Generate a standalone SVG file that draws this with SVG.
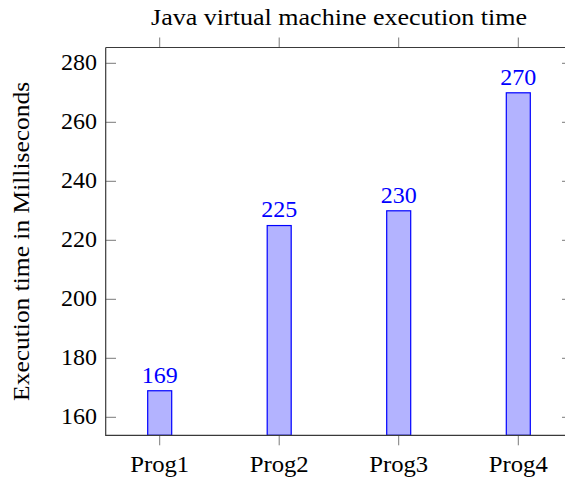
<svg xmlns="http://www.w3.org/2000/svg" width="565" height="479" viewBox="0 0 565 479">
<style>
text { font-family: "Liberation Serif", "Times New Roman", serif; font-size: 24px; fill: #000; }
.axis { stroke: #3a3a3a; stroke-width: 1.2; fill: none; }
.tick { stroke: #7a7a7a; stroke-width: 1; fill: none; }
.bar { fill: #b3b3ff; stroke: #0000ff; stroke-width: 1.2; }
.val { fill: #0000ff; text-anchor: middle; }
.yl { text-anchor: end; }
.xl { text-anchor: middle; }
</style>
<rect width="565" height="479" fill="#ffffff"/>
<g id="bars">
  <g id="bar-prog1"><rect class="bar" x="147.7" y="390.75" width="24" height="44.55"/><text class="val" x="159.7" y="382.5">169</text></g>
  <g id="bar-prog2"><rect class="bar" x="267.2" y="225.55" width="24" height="209.75"/><text class="val" x="279.2" y="217.3">225</text></g>
  <g id="bar-prog3"><rect class="bar" x="386.7" y="210.8" width="24" height="224.5"/><text class="val" x="398.7" y="202.5">230</text></g>
  <g id="bar-prog4"><rect class="bar" x="506.3" y="92.8" width="24" height="342.5"/><text class="val" x="518.3" y="84.5">270</text></g>
</g>
<g id="axes">
  <g id="ticks">
    <path class="tick" d="M105.7 417.3h10.3M105.7 358.3h10.3M105.7 299.3h10.3M105.7 240.3h10.3M105.7 181.3h10.3M105.7 122.3h10.3M105.7 63.3h10.3"/>
    <path class="tick" d="M572.3 417.3h-10.3M572.3 358.3h-10.3M572.3 299.3h-10.3M572.3 240.3h-10.3M572.3 181.3h-10.3M572.3 122.3h-10.3M572.3 63.3h-10.3"/>
    <path class="tick" d="M159.7 435.3v10M279.2 435.3v10M398.7 435.3v10M518.3 435.3v10"/>
    <path class="tick" d="M159.7 47.5v-10M279.2 47.5v-10M398.7 47.5v-10M518.3 47.5v-10"/>
  </g>
  <path class="axis" d="M105.7 47.5V435.3H572.3M105.7 47.5H572.3"/>
</g>
<g id="y-tick-labels">
  <text class="yl" x="97" y="423.8">160</text>
  <text class="yl" x="97" y="364.8">180</text>
  <text class="yl" x="97" y="305.8">200</text>
  <text class="yl" x="97" y="246.8">220</text>
  <text class="yl" x="97" y="187.8">240</text>
  <text class="yl" x="97" y="128.8">260</text>
  <text class="yl" x="97" y="69.8">280</text>
</g>
<g id="x-tick-labels">
  <text class="xl" x="159.7" y="471.7" textLength="59" lengthAdjust="spacingAndGlyphs">Prog1</text>
  <text class="xl" x="279.2" y="471.7" textLength="59" lengthAdjust="spacingAndGlyphs">Prog2</text>
  <text class="xl" x="398.7" y="471.7" textLength="59" lengthAdjust="spacingAndGlyphs">Prog3</text>
  <text class="xl" x="518.3" y="471.7" textLength="59" lengthAdjust="spacingAndGlyphs">Prog4</text>
</g>
<g id="title"><text x="339" y="25" text-anchor="middle" textLength="376" lengthAdjust="spacingAndGlyphs">Java virtual machine execution time</text></g>
<g id="y-label"><text transform="translate(29 241.4) rotate(-90)" x="0" y="0" text-anchor="middle" textLength="319" lengthAdjust="spacingAndGlyphs">Execution time in Milliseconds</text></g>
</svg>
